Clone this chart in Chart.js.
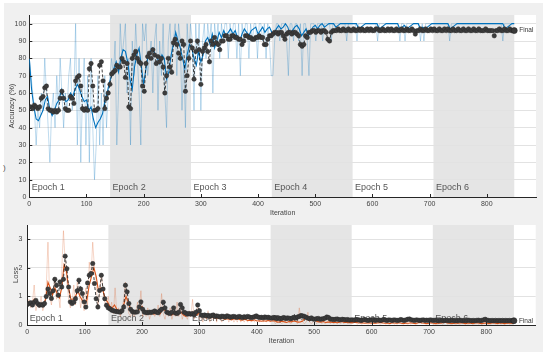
<!DOCTYPE html>
<html lang="en">
<head>
<meta charset="UTF-8">
<title>Training progress</title>
<script src="https://cdn.jsdelivr.net/npm/chart.js"></script>
<style>
  body { margin: 0; width: 550px; height: 356px; overflow: hidden; position: relative; background: #fff;
         font-family: 'Liberation Sans', Arial, sans-serif; }
  #panel { position: absolute; left: 4px; top: 3px; width: 539px; height: 349px; background: #f0f0f0; }
  #acc { position: absolute; left: 0; top: 0; }
  #loss { position: absolute; left: 0; top: 215px; }
  #stray { position: absolute; left: 3px; top: 163px; font-size: 8px; color: #555; }
</style>
</head>
<body>
<div id="panel"></div>
<div id="stray">)</div>
<canvas id="acc" width="550" height="222"></canvas>
<canvas id="loss" width="550" height="141"></canvas>

<script>
// iteration spacing of each series
const rawStep = 3, smoothStep = 4, valStep = 3;
const finalIter = 848;
const epochBounds = [0, 141.3, 282.7, 424, 565.3, 706.7, 848];
const epochNames = ['Epoch 1', 'Epoch 2', 'Epoch 3', 'Epoch 4', 'Epoch 5', 'Epoch 6'];
const xTicks = [0, 100, 200, 300, 400, 500, 600, 700, 800];
const accTicks = [0, 10, 20, 30, 40, 50, 60, 70, 80, 90, 100];
const lossTicks = [0, 1, 2, 3];

// training accuracy (raw, every 3 iterations)
const rawAcc = [
  80,70,60,50,30,50,40,60,50,80,60,40,20,50,60,40,70,50,80,60,40,60,50,70,80,50,60,100,30,80,20,60,80,30,70,20,80,40,10,30,70,30,60,30,70,40,60,70,
  80,70,90,30,60,100,80,90,100,60,80,30,90,70,100,80,60,30,100,90,100,70,80,90,60,90,100,50,90,70,100,60,40,90,100,80,90,100,70,100,90,50,80,40,100,80,100,
  90,50,100,80,100,50,90,100,80,100,90,100,60,100,90,100,80,100,90,100,100,80,100,90,100,100,80,100,70,100,90,100,100,80,100,90,100,100,80,100,100,90,100,80,100,90,70,
  70,90,100,100,90,100,100,100,90,70,100,100,90,100,100,90,100,70,100,100,90,70,100,100,100,90,100,100,100,90,100,100,100,100,90,100,100,100,100,100,100,100,100,90,100,100,100,
  100,100,90,100,100,100,100,100,100,100,100,100,100,100,90,100,100,100,100,100,100,100,100,100,100,100,100,90,100,100,
  90,100,100,100,100,100,100,100,100,90,100,90,100,100,100,100,100,100,100,100,100,100,100,100,100,100,90,100,100,100,
  100,100,100,100,100,100,100,100,100,100,100,100,100,100,100,100,100,100,100,100,100,100,100,100,100,100,100,90,100,100,
  100,100,100,100
];
// training accuracy (smoothed, every 4 iterations)
const smoothAcc = [
  80,62,52,45,44,47,50,56,58,50,47,50,54,56,62,58,55,56,60,58,62,65,62,58,55,56,50,52,45,40,43,45,48,55,60,66,
  70,74,78,72,80,85,84,78,68,62,75,82,86,75,65,74,82,84,86,82,80,77,82,80,68,72,82,88,95,90,86,80,74,82,88,
  86,80,76,84,78,82,90,92,88,94,86,90,95,92,96,93,95,97,94,96,92,90,94,97,95,93,96,97,98,94,96,98,95,97,98,95,
  94,97,99,97,98,100,98,94,96,98,99,97,93,95,97,93,95,98,99,97,99,100,98,99,100,100,100,98,99,100,100,100,100,100,100,
  100,100,97,98,99,100,100,100,100,100,100,97,98,99,100,100,100,100,100,100,97,98,99,97,98,99,100,100,100,97,98,97,98,99,100,
  100,100,100,100,100,100,100,97,98,99,100,100,100,100,100,100,100,100,100,100,100,100,100,100,100,100,100,100,100,100,100,97,98,99,100,100
];
// validation accuracy (every 3 iterations)
const valAcc = [
  52,52,51,53,52,51,52,57,58,63,64,51,50,50,49,50,49,50,57,61,57,51,50,50,58,57,54,67,69,70,64,51,50,51,50,74,77,64,50,50,51,76,78,67,51,57,60,65,
  71,72,73,76,75,75,80,78,69,77,52,51,80,82,84,80,78,77,64,61,77,81,83,80,85,82,77,81,78,80,75,60,70,80,75,72,89,91,88,83,80,90,88,61,70,80,90,
  86,68,84,90,85,65,84,86,88,84,78,90,88,92,89,88,85,90,90,93,93,91,91,93,93,92,92,91,91,88,90,93,93,92,92,91,91,92,92,93,92,92,88,88,91,93,93,
  94,95,95,94,95,95,93,91,94,95,95,94,95,95,94,93,88,87,88,93,92,95,95,96,96,95,96,96,95,96,96,95,91,90,95,96,96,96,97,96,96,97,96,96,97,96,96,
  97,96,96,97,96,97,96,96,97,96,97,96,96,97,97,96,96,97,96,96,97,96,97,96,96,97,96,96,97,96,96,97,96,96,97,96,94,96,96,97,
  96,96,97,96,96,97,96,97,96,96,97,96,96,97,96,97,96,96,97,96,96,97,96,96,97,96,96,97,96,96,97,96,96,97,96,96,96,97,96,96,
  96,96,93,96,96,97,96,96,97,96,96,97,96,96
];
const finalAcc = 96;

// training loss (raw, every 3 iterations)
const rawLoss = [
  0.7,0.9,0.6,0.8,1.4,0.5,0.8,0.6,1.0,0.5,0.7,1.3,2.9,1.0,0.7,1.2,1.6,0.9,1.1,0.6,1.9,3.3,2.2,1.5,0.9,0.6,0.8,1.4,0.7,1.5,1.2,0.6,1.0,0.5,1.3,0.7,2.2,1.7,2.9,2.0,1.5,0.6,1.1,1.8,1.2,0.8,0.6,1.0,
  0.5,0.8,0.4,1.3,0.4,0.6,0.3,0.5,0.9,1.5,0.7,0.4,0.3,0.5,0.3,0.4,0.8,0.5,1.2,0.3,0.5,0.3,0.6,0.2,0.4,0.5,0.3,0.4,0.7,0.3,1.1,0.4,0.2,0.5,0.3,0.6,0.2,0.4,0.3,0.8,0.3,0.6,0.2,0.4,0.3,0.2,0.5,
  0.3,0.9,0.2,0.4,0.7,0.2,0.3,0.1,0.4,0.2,0.5,0.1,0.3,0.2,0.4,0.1,0.3,0.2,0.1,0.3,0.2,0.4,0.1,0.2,0.3,0.1,0.2,0.1,0.3,0.1,0.2,0.1,0.2,0.1,0.3,0.1,0.2,0.1,0.2,0.3,0.1,0.2,0.1,0.2,0.1,0.3,0.1,
  0.3,0.2,0.05,0.1,0.2,0.1,0.05,0.15,0.1,0.3,0.1,0.05,0.1,0.2,0.1,0.05,0.6,0.2,0.1,0.05,0.1,0.45,0.1,0.05,0.1,0.2,0.05,0.1,0.15,0.05,0.1,0.05,0.1,0.2,0.05,0.1,0.05,0.1,0.05,0.1,0.05,0.1,0.05,0.15,0.05,0.1,0.05,
  0.05,0.2,0.05,0.03,0.1,0.03,0.05,0.1,0.05,0.03,0.05,0.03,0.1,0.05,0.15,0.05,0.03,0.05,0.1,0.03,0.05,0.03,0.05,0.1,0.03,0.05,0.03,0.15,0.05,0.03,
  0.1,0.05,0.03,0.05,0.03,0.1,0.05,0.03,0.05,0.15,0.05,0.2,0.03,0.05,0.03,0.1,0.05,0.03,0.05,0.03,0.05,0.1,0.03,0.05,0.15,0.03,0.05,0.03,0.1,0.05,
  0.03,0.05,0.03,0.05,0.1,0.03,0.05,0.03,0.05,0.1,0.03,0.05,0.15,0.03,0.05,0.03,0.05,0.1,0.03,0.05,0.03,0.05,0.1,0.03,0.05,0.2,0.03,0.05,0.03,0.05,
  0.1,0.03,0.05,0.03
];
// training loss (smoothed, every 4 iterations)
const smoothLoss = [
  0.75,0.8,0.72,0.9,0.8,0.7,0.75,0.72,0.9,1.5,1.3,1.05,1.3,1.1,0.95,1.3,2.1,1.9,1.3,0.9,0.9,1.0,1.2,1.0,0.85,0.75,0.9,1.4,1.7,2.0,1.7,1.2,1.3,1.2,0.9,0.8,
  0.65,0.6,0.7,0.55,0.5,0.45,0.7,1.0,0.8,0.55,0.45,0.42,0.45,0.6,0.65,0.5,0.42,0.4,0.45,0.38,0.4,0.45,0.4,0.6,0.5,0.38,0.4,0.35,0.42,0.35,0.38,0.45,0.35,0.3,0.35,
  0.32,0.45,0.38,0.35,0.45,0.32,0.3,0.25,0.28,0.26,0.3,0.24,0.25,0.22,0.26,0.2,0.22,0.2,0.18,0.22,0.2,0.22,0.17,0.18,0.2,0.16,0.17,0.15,0.18,0.14,0.15,0.13,0.15,0.13,0.16,0.13,
  0.15,0.14,0.1,0.11,0.13,0.11,0.09,0.12,0.11,0.14,0.12,0.1,0.11,0.14,0.25,0.2,0.15,0.22,0.18,0.13,0.11,0.1,0.12,0.09,0.1,0.11,0.09,0.1,0.08,0.1,0.12,0.09,0.1,0.08,0.09,
  0.08,0.1,0.08,0.07,0.08,0.06,0.07,0.08,0.06,0.07,0.06,0.08,0.09,0.07,0.06,0.07,0.05,0.08,0.07,0.06,0.08,0.06,0.05,0.07,0.06,0.08,0.06,0.05,0.07,0.09,
  0.07,0.06,0.05,0.06,0.08,0.06,0.05,0.07,0.06,0.08,0.1,0.07,0.06,0.05,0.06,0.07,0.06,0.08,0.06,0.05,0.07,0.06,0.05,0.07,0.08,0.06,0.05,0.06,0.07,0.05,
  0.06,0.08,0.06,0.05,0.07,0.06,0.05,0.06,0.07,0.06,0.06
];
// validation loss (every 3 iterations)
const valLoss = [
  0.72,0.75,0.78,0.7,0.8,0.86,0.75,0.69,0.72,0.69,0.75,1.0,1.26,1.1,0.93,1.2,1.6,1.39,1.04,1.51,1.33,1.6,2.41,1.97,1.33,0.81,0.75,0.8,0.92,1.2,1.57,1.26,1.1,0.81,0.63,1.47,1.74,1.8,2.15,1.45,0.92,0.63,1.21,1.74,1.26,0.92,0.69,0.6,
  0.57,0.52,0.5,0.48,0.47,0.46,0.45,0.5,0.63,1.39,1.16,0.75,0.55,0.47,0.45,0.45,0.46,0.63,0.81,0.55,0.45,0.44,0.43,0.45,0.44,0.46,0.49,0.45,0.43,0.5,0.55,0.8,0.6,0.45,0.42,0.4,0.45,0.6,0.42,0.4,0.45,0.72,0.6,0.45,0.42,0.38,0.4,
  0.38,0.4,0.36,0.45,0.7,0.5,0.35,0.33,0.35,0.32,0.34,0.3,0.33,0.35,0.3,0.32,0.3,0.28,0.31,0.3,0.28,0.32,0.3,0.27,0.29,0.3,0.28,0.27,0.3,0.28,0.26,0.29,0.27,0.3,0.28,0.26,0.27,0.29,0.32,0.28,0.26,0.27,0.25,0.28,0.26,0.27,0.25,
  0.24,0.26,0.25,0.23,0.25,0.22,0.24,0.26,0.23,0.25,0.24,0.22,0.25,0.27,0.24,0.28,0.3,0.33,0.32,0.3,0.27,0.24,0.22,0.25,0.21,0.2,0.22,0.23,0.2,0.21,0.22,0.24,0.28,0.26,0.21,0.2,0.19,0.2,0.21,0.19,0.18,0.2,0.19,0.18,0.19,0.17,0.18,
  0.18,0.17,0.19,0.18,0.17,0.16,0.18,0.19,0.17,0.16,0.18,0.17,0.19,0.16,0.17,0.18,0.16,0.17,0.19,0.17,0.16,0.18,0.17,0.16,0.18,0.17,0.16,0.17,0.19,0.17,
  0.16,0.18,0.2,0.21,0.18,0.17,0.16,0.18,0.17,0.16,0.17,0.18,0.16,0.17,0.16,0.18,0.17,0.16,0.17,0.16,0.15,0.17,0.16,0.15,0.17,0.16,0.15,0.16,0.17,0.15,
  0.16,0.15,0.17,0.16,0.15,0.16,0.15,0.17,0.16,0.15,0.16,0.15,0.16,0.17,0.15,0.16,0.18,0.2,0.17,0.16,0.15,0.16,0.15,0.16,0.15,0.16,0.15,0.16,0.15,0.16,
  0.15,0.16,0.15,0.15
];
const finalLoss = 0.15;

const FONT = "'Liberation Sans', Arial, sans-serif";
const toPts = (arr, step) => arr.map((v, i) => ({ x: i * step, y: v }));

// white plot area, grey shading on even epochs, epoch names, inward ticks, "Final" tag
const epochPlugin = {
  id: 'epochs',
  beforeDraw(chart, args, opts) {
    const { ctx, chartArea: a, scales: { x } } = chart;
    ctx.save();
    ctx.fillStyle = '#fff';
    ctx.fillRect(a.left, a.top, a.right - a.left, a.bottom - a.top);
    ctx.fillStyle = '#e5e5e5';
    for (let i = 1; i < epochNames.length; i += 2) {
      const x0 = x.getPixelForValue(epochBounds[i]);
      const x1 = x.getPixelForValue(epochBounds[i + 1]);
      ctx.fillRect(x0, a.top, x1 - x0, a.bottom - a.top);
    }
    ctx.restore();
  },
  beforeDatasetsDraw(chart, args, opts) {
    const { ctx, chartArea: a, scales: { x } } = chart;
    ctx.save();
    ctx.font = '9px ' + FONT;
    ctx.fillStyle = '#555';
    ctx.textBaseline = 'middle';
    epochNames.forEach((name, i) => {
      ctx.fillText(name, x.getPixelForValue(epochBounds[i]) + 2.5, a.bottom - opts.labelOffset);
    });
    ctx.restore();
  },
  afterDatasetsDraw(chart, args, opts) {
    const { ctx, chartArea: a, scales: { x, y } } = chart;
    ctx.save();
    ctx.strokeStyle = '#262626';
    ctx.lineWidth = 1;
    ctx.beginPath();
    xTicks.forEach(v => {
      const px = Math.round(x.getPixelForValue(v)) + 0.5;
      ctx.moveTo(px, a.bottom);
      ctx.lineTo(px, a.bottom - 3);
    });
    opts.yTicks.forEach(v => {
      const py = Math.round(y.getPixelForValue(v)) + 0.5;
      ctx.moveTo(a.left, py);
      ctx.lineTo(a.left + 3, py);
    });
    ctx.stroke();
    ctx.font = '6.5px ' + FONT;
    ctx.fillStyle = '#333';
    ctx.textBaseline = 'middle';
    ctx.fillText('Final', x.getPixelForValue(finalIter) + 5, y.getPixelForValue(opts.finalValue));
    ctx.restore();
  }
};

function makeChart(id, cfg) {
  const tickFont = { size: 7, family: FONT };
  return new Chart(document.getElementById(id), {
    type: 'line',
    data: {
      datasets: [
        { data: [{ x: finalIter, y: cfg.finalValue }], showLine: false, pointRadius: 3,
          pointBackgroundColor: '#3a3a3a', pointBorderColor: '#222', pointBorderWidth: 0.6 },
        { data: toPts(cfg.val, valStep), borderColor: '#111', borderWidth: 0.8, borderDash: [3, 2],
          pointRadius: 2.2, pointBackgroundColor: '#3c3c3c', pointBorderColor: '#2a2a2a', pointBorderWidth: 0.5 },
        { data: toPts(cfg.smooth, smoothStep), borderColor: cfg.color, borderWidth: 1.1, pointRadius: 0 },
        { data: toPts(cfg.raw, rawStep), borderColor: cfg.light, borderWidth: 0.8, pointRadius: 0 }
      ]
    },
    options: {
      responsive: false,
      animation: false,
      events: [],
      layout: { padding: { left: 0, right: cfg.padRight, top: cfg.padTop, bottom: 0 } },
      elements: { line: { tension: 0 } },
      plugins: {
        legend: { display: false },
        tooltip: { enabled: false },
        epochs: { labelOffset: cfg.labelOffset, yTicks: cfg.yTicks, finalValue: cfg.finalValue }
      },
      scales: {
        x: {
          type: 'linear', min: 0, max: 886,
          afterBuildTicks: s => { s.ticks = xTicks.map(v => ({ value: v })); },
          afterFit: s => { s.height = cfg.xHeight; },
          grid: { display: false, drawTicks: false },
          border: { display: true, color: '#262626', width: 1 },
          ticks: { padding: cfg.xTickPad, font: tickFont, color: '#444', maxRotation: 0 },
          title: { display: true, text: 'Iteration', font: tickFont, color: '#444',
                   padding: { top: 0, bottom: cfg.xTitlePad } }
        },
        y: {
          min: 0, max: cfg.yMax,
          afterBuildTicks: s => { s.ticks = cfg.yTicks.map(v => ({ value: v })); },
          afterFit: s => { s.width = cfg.yWidth; },
          grid: { color: '#e2e2e2', drawTicks: false },
          border: { display: true, color: '#262626', width: 1 },
          ticks: { padding: cfg.yTickPad, font: tickFont, color: '#444' },
          title: { display: true, text: cfg.yTitle, font: { size: 7.5, family: FONT }, color: '#444',
                   padding: { top: cfg.yTitlePad, bottom: 0 } }
        }
      }
    },
    plugins: [epochPlugin]
  });
}

makeChart('acc', {
  raw: rawAcc, smooth: smoothAcc, val: valAcc, finalValue: finalAcc,
  color: '#0072BD', light: 'rgba(0,114,189,0.32)',
  yMax: 105, yTicks: accTicks, yTitle: 'Accuracy (%)',
  padRight: 14, padTop: 15, xHeight: 25, yWidth: 29.3,
  xTickPad: 2.5, xTitlePad: 4.5, yTickPad: 3, yTitlePad: 7.5, labelOffset: 9
});

makeChart('loss', {
  raw: rawLoss, smooth: smoothLoss, val: valLoss, finalValue: finalLoss,
  color: '#D95319', light: 'rgba(217,83,25,0.3)',
  yMax: 3.5, yTicks: lossTicks, yTitle: 'Loss',
  padRight: 14.3, padTop: 10, xHeight: 31, yWidth: 27.3,
  xTickPad: 3, xTitlePad: 10.8, yTickPad: 5, yTitlePad: 11.2, labelOffset: 6.5
});
</script>
</body>
</html>
